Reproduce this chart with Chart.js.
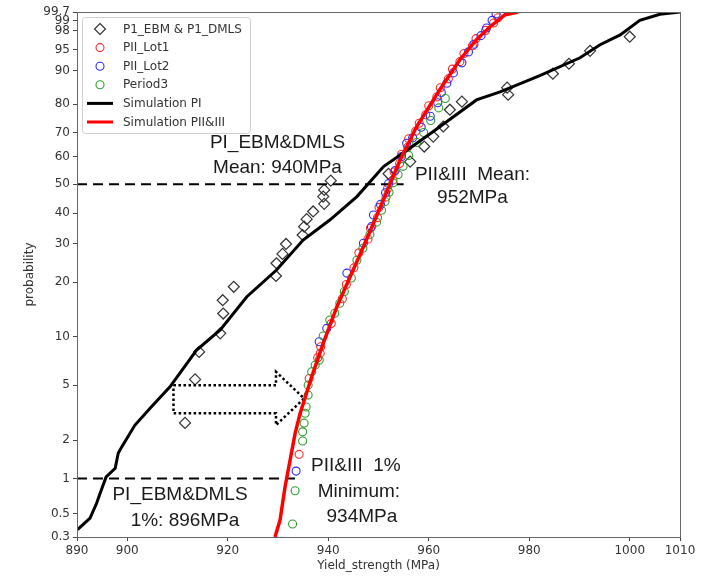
<!DOCTYPE html>
<html>
<head>
<meta charset="utf-8">
<script src="https://cdn.jsdelivr.net/npm/chart.js@4.4.0/dist/chart.umd.min.js"></script>
<style>
  body { margin: 0; background: #fff; }
</style>
</head>
<body>
<canvas id="myChart" width="705" height="576"></canvas>
<script>
/* Data: strength in MPa, probability in % */
const xTicks = [890, 900, 920, 940, 960, 980, 1000, 1010];
const yTickProbs = [0.3, 0.5, 1, 2, 5, 10, 20, 30, 40, 50, 60, 70, 80, 90, 95, 98, 99, 99.7];
const yTickLabels = ['0.3', '0.5', '1', '2', '5', '10', '20', '30', '40', '50', '60', '70', '80', '90', '95', '98', '99', '99.7'];

const p1Strength = [911.5, 913.5, 914.3, 918.5, 919.1, 919.0, 921.2, 929.6, 929.7, 930.9, 931.6, 934.9, 935.2, 935.7, 937.0, 939.2,
  939.0, 939.2, 940.5, 952.0, 956.3, 959.1, 960.9, 962.9, 964.2, 966.6, 975.8, 975.6, 984.7, 987.9, 992.1, 1000.0];
const p1Prob = [2.71, 5.46, 8.15, 10.5, 13.7, 16.2, 19.0, 21.5, 24.7, 27.2, 30.0, 32.8, 35.5, 38.0, 40.6, 43.2,
  45.7, 48.0, 51.3, 53.8, 58.2, 64.3, 68.4, 72.3, 78.2, 80.9, 83.3, 85.5, 89.3, 91.96, 94.8, 97.26];

const lot1Strength = [934.2, 936.2, 937.9, 938.4, 938.5, 940.6, 942.8, 943.6, 945.1, 946.1, 947.9, 948.4, 949.8, 950.1, 951.5, 951.8,
  952.9, 953.1, 954.2, 954.6, 955.8, 956.0, 957.4, 958.1, 959.4, 960.0, 961.6, 962.3, 963.9, 964.7, 966.2, 967.0,
  968.7, 969.4, 971.3, 972.9, 973.8];
const lot1Prob = [1.56, 5.54, 7.5, 7.98, 8.74, 12.0, 16.5, 19.5, 23.5, 27.5, 31.5, 35.0, 38.5, 42.0, 45.5, 48.5,
  51.5, 54.5, 57.5, 61.0, 64.0, 67.5, 70.5, 73.5, 76.5, 79.5, 82.5, 85.5, 88.0, 90.5, 92.5, 94.3,
  95.8, 97.0, 98.0, 98.8, 99.3];

const lot2Strength = [933.6, 938.2, 939.7, 943.7, 947.0, 948.6, 949.0, 950.4, 951.4, 952.0, 953.3, 954.6, 955.6, 956.8, 958.5, 960.3,
  961.8, 962.5, 963.6, 964.9, 966.6, 967.9, 969.0, 970.4, 971.5, 972.6, 973.4];
const lot2Prob = [1.15, 9.36, 11.24, 22.2, 30.2, 35.5, 39.4, 43.0, 47.0, 50.2, 55.0, 60.0, 65.7, 67.9, 72.0, 76.0,
  80.5, 84.0, 86.8, 89.5, 92.2, 94.6, 96.1, 97.4, 98.3, 99.0, 99.6];

const p3Strength = [932.9, 933.4, 934.9, 934.9, 935.2, 935.4, 935.6, 936.0, 936.0, 936.7, 937.4, 938.2, 939.0, 940.3, 941.3, 942.3,
  943.2, 944.6, 945.7, 946.9, 948.3, 949.6, 950.6, 951.3, 952.1, 952.9, 953.9, 954.9, 956.0, 957.6, 959.0, 960.4,
  962.0, 963.3];
const p3Prob = [0.40, 0.79, 1.97, 2.32, 2.70, 3.19, 3.54, 4.28, 5.0, 6.12, 6.75, 7.26, 10.1, 12.6, 13.75, 15.6,
  18.0, 21.0, 25.5, 28.8, 33.0, 37.0, 41.0, 44.0, 47.2, 50.5, 53.5, 56.5, 60.5, 66.0, 70.0, 74.5,
  78.8, 82.0];

const simPIStrength = [890.1, 892.6, 893.9, 894.6, 895.8, 897.6, 898.2, 898.9, 901.5, 904.5, 908.5, 913.8, 918.5, 923.8, 929.7, 935.0,
  940.3, 945.7, 951.0, 954.9, 960.9, 969.5, 974.2, 982.1, 990.1, 994.1, 998.1, 1002.0, 1006.0, 1010.0];
const simPIProb = [0.354, 0.453, 0.617, 0.753, 1.03, 1.21, 1.59, 1.78, 2.6, 3.45, 4.87, 8.35, 11.0, 16.9, 22.97, 31.2,
  37.7, 45.7, 56.4, 61.5, 70.4, 81.5, 84.2, 88.8, 93.4, 96.0, 97.5, 99.0, 99.58, 99.7];

const simPIIStrength = [929.4, 930.4, 931.4, 933.4, 934.4, 936.7, 939.0, 941.7, 947.0, 951.0, 954.3, 957.6, 962.2, 966.2, 969.5, 972.2, 975.2, 977.8];
const simPIIProb = [0.3, 0.433, 0.85, 2.25, 3.18, 5.68, 9.16, 14.9, 29.2, 44.6, 58.8, 72.3, 84.9, 92.95, 96.83, 98.44, 99.55, 99.7];

const meanLineStrength = [890, 955];
const meanLineProb = [50, 50];
const minLineStrength = [890, 934];
const minLineProb = [1, 1];

const arrowStrength = [909.2, 929.6, 929.6, 935.2, 929.6, 929.6, 909.2, 909.2];
const arrowProb = [5.0, 5.0, 6.12, 4.06, 2.61, 3.19, 3.19, 5.0];

const notes = [
  { text: 'PI_EBM&DMLS', x: 929.9, p: 65.7 },
  { text: 'Mean: 940MPa', x: 929.9, p: 55.9 },
  { text: 'PII&III  Mean:', x: 968.7, p: 53.4 },
  { text: '952MPa', x: 968.7, p: 45.2 },
  { text: 'PII&III  1%', x: 945.5, p: 1.26 },
  { text: 'Minimum:', x: 946.1, p: 0.77 },
  { text: '934MPa', x: 946.7, p: 0.472 },
  { text: 'PI_EBM&DMLS', x: 910.5, p: 0.724 },
  { text: '1%: 896MPa', x: 911.5, p: 0.425 }
];

/* probability axis: position of each tick (0 = bottom, 100 = top) as printed on the reference */
const probAxisPos = [0, 4.462, 11.137, 18.44, 28.928, 38.139, 48.513, 55.816, 61.67, 67.201, 72.464, 77.04, 82.456, 88.806, 92.811, 96.491, 98.398, 100];

function probit(p) {
  const a = [-3.969683028665376e+01, 2.209460984245205e+02, -2.759285104469687e+02, 1.383577518672690e+02, -3.066479806614716e+01, 2.506628277459239e+00];
  const b = [-5.447609879822406e+01, 1.615858368580409e+02, -1.556989798598866e+02, 6.680131188771972e+01, -1.328068155288572e+01];
  const c = [-7.784894002430293e-03, -3.223964580411365e-01, -2.400758277161838e+00, -2.549732539343734e+00, 4.374664141464968e+00, 2.938163982698783e+00];
  const d = [7.784695709041462e-03, 3.224671290700398e-01, 2.445134137142996e+00, 3.754408661907416e+00];
  const plow = 0.02425;
  let q, r;
  if (p < plow) {
    q = Math.sqrt(-2 * Math.log(p));
    return (((((c[0] * q + c[1]) * q + c[2]) * q + c[3]) * q + c[4]) * q + c[5]) / ((((d[0] * q + d[1]) * q + d[2]) * q + d[3]) * q + 1);
  }
  if (p <= 1 - plow) {
    q = p - 0.5; r = q * q;
    return (((((a[0] * r + a[1]) * r + a[2]) * r + a[3]) * r + a[4]) * r + a[5]) * q / (((((b[0] * r + b[1]) * r + b[2]) * r + b[3]) * r + b[4]) * r + 1);
  }
  q = Math.sqrt(-2 * Math.log(1 - p));
  return -(((((c[0] * q + c[1]) * q + c[2]) * q + c[3]) * q + c[4]) * q + c[5]) / ((((d[0] * q + d[1]) * q + d[2]) * q + d[3]) * q + 1);
}

const anchorZ = yTickProbs.map(p => probit(p / 100));

function probPos(pct) {
  const z = probit(pct / 100);
  let i = 0;
  while (i < anchorZ.length - 2 && z > anchorZ[i + 1]) i++;
  const f = (z - anchorZ[i]) / (anchorZ[i + 1] - anchorZ[i]);
  return probAxisPos[i] + f * (probAxisPos[i + 1] - probAxisPos[i]);
}

function pts(xs, ps) {
  return xs.map((x, i) => ({ x: x, y: probPos(ps[i]) }));
}

const tickFont = { family: 'DejaVu Sans', size: 12 };

/* legend drawn inside the plot, like the original */
const innerLegend = {
  id: 'innerLegend',
  afterDraw(chart) {
    const ctx = chart.ctx;
    const area = chart.chartArea;
    const bx = area.left + 5, by = area.top + 5, bw = 168, bh = 116;
    ctx.save();
    ctx.fillStyle = 'rgba(255,255,255,0.85)';
    ctx.strokeStyle = '#d0d0d0';
    ctx.lineWidth = 1;
    ctx.beginPath();
    ctx.roundRect(bx + 0.5, by + 0.5, bw, bh, 3);
    ctx.fill();
    ctx.stroke();
    ctx.font = '12px "DejaVu Sans"';
    ctx.textBaseline = 'middle';
    chart.data.datasets.slice(0, 6).forEach((ds, i) => {
      const cy = by + 12 + i * 18.6;
      const cx = bx + 18;
      ctx.strokeStyle = ds.borderColor;
      ctx.beginPath();
      if (ds.showLine) {
        ctx.lineWidth = 3;
        ctx.moveTo(cx - 13, cy);
        ctx.lineTo(cx + 13, cy);
      } else if (ds.pointStyle === 'rectRot') {
        const r = ds.pointRadius;
        ctx.lineWidth = ds.borderWidth;
        ctx.moveTo(cx, cy - r); ctx.lineTo(cx + r, cy); ctx.lineTo(cx, cy + r); ctx.lineTo(cx - r, cy); ctx.closePath();
      } else {
        ctx.lineWidth = ds.borderWidth;
        ctx.arc(cx, cy, ds.pointRadius, 0, Math.PI * 2);
      }
      ctx.stroke();
      ctx.fillStyle = '#333';
      ctx.fillText(ds.label, bx + 41, cy + 0.5);
    });
    ctx.restore();
  }
};

const notesAndFrame = {
  id: 'notesAndFrame',
  afterDatasetsDraw(chart) {
    const ctx = chart.ctx;
    const xs = chart.scales.x, ys = chart.scales.y;
    const area = chart.chartArea;
    ctx.save();
    ctx.strokeStyle = '#666';
    ctx.lineWidth = 1;
    ctx.strokeRect(Math.round(area.left) + 0.5, Math.round(area.top) + 0.5,
      Math.round(area.right - area.left), Math.round(area.bottom - area.top));
    ctx.fillStyle = '#1a1a1a';
    ctx.font = '19px "Liberation Sans", Arial, sans-serif';
    ctx.textAlign = 'center';
    ctx.textBaseline = 'middle';
    notes.forEach(n => {
      ctx.fillText(n.text, xs.getPixelForValue(n.x), ys.getPixelForValue(probPos(n.p)));
    });
    ctx.restore();
  }
};

new Chart('myChart', {
  type: 'scatter',
  data: {
    datasets: [
      { label: 'P1_EBM & P1_DMLS', data: pts(p1Strength, p1Prob), pointStyle: 'rectRot', pointRadius: 5.5,
        borderColor: '#333', backgroundColor: 'rgba(0,0,0,0)', borderWidth: 1.2, order: 6 },
      { label: 'PII_Lot1', data: pts(lot1Strength, lot1Prob), pointStyle: 'circle', pointRadius: 4,
        borderColor: '#ff2a2a', backgroundColor: 'rgba(0,0,0,0)', borderWidth: 1.1, order: 5 },
      { label: 'PII_Lot2', data: pts(lot2Strength, lot2Prob), pointStyle: 'circle', pointRadius: 4,
        borderColor: '#2a2aff', backgroundColor: 'rgba(0,0,0,0)', borderWidth: 1.1, order: 4 },
      { label: 'Period3', data: pts(p3Strength, p3Prob), pointStyle: 'circle', pointRadius: 4,
        borderColor: '#2e9e2e', backgroundColor: 'rgba(0,0,0,0)', borderWidth: 1.1, order: 3 },
      { label: 'Simulation PI', data: pts(simPIStrength, simPIProb), showLine: true, pointRadius: 0,
        borderColor: '#000', borderWidth: 3, order: 1 },
      { label: 'Simulation PII&III', data: pts(simPIIStrength, simPIIProb), showLine: true, pointRadius: 0,
        borderColor: '#ff0000', borderWidth: 3.5, order: 0 },
      { label: 'mean', data: pts(meanLineStrength, meanLineProb), showLine: true, pointRadius: 0,
        borderColor: '#000', borderWidth: 2, borderDash: [10, 6], order: 2 },
      { label: 'min', data: pts(minLineStrength, minLineProb), showLine: true, pointRadius: 0,
        borderColor: '#000', borderWidth: 2, borderDash: [10, 6], order: 2 },
      { label: 'arrow', data: pts(arrowStrength, arrowProb), showLine: true, pointRadius: 0,
        borderColor: '#000', borderWidth: 2.5, borderDash: [2.5, 2.5], order: 2 }
    ]
  },
  options: {
    responsive: false,
    animation: false,
    devicePixelRatio: 1,
    layout: { padding: { left: 0, top: 12, right: 25, bottom: 0 } },
    plugins: { legend: { display: false }, tooltip: { enabled: false } },
    scales: {
      x: {
        type: 'linear', min: 890, max: 1010,
        afterBuildTicks: s => { s.ticks = xTicks.map(v => ({ value: v })); },
        afterFit: s => { s.height = 39; },
        ticks: { font: tickFont, color: '#333', padding: 3, maxRotation: 0, autoSkip: false, callback: v => String(v) },
        grid: { display: true, drawOnChartArea: false, drawTicks: true, tickLength: 4, color: '#444' },
        border: { display: false },
        title: { display: true, text: 'Yield_strength (MPa)', font: tickFont, color: '#333', padding: { top: 0, bottom: 3 } }
      },
      y: {
        type: 'linear', min: 0, max: 100,
        afterBuildTicks: s => { s.ticks = yTickProbs.map(p => ({ value: probPos(p) })); },
        afterFit: s => { s.width = 77; },
        ticks: { font: tickFont, color: '#333', padding: 3, autoSkip: false, callback: (v, i) => yTickLabels[i] },
        grid: { display: true, drawOnChartArea: false, drawTicks: true, tickLength: 4, color: '#444' },
        border: { display: false },
        title: { display: true, text: 'probability', font: tickFont, color: '#333', padding: { top: 23, bottom: 0 } }
      }
    }
  },
  plugins: [notesAndFrame, innerLegend]
});
</script>
</body>
</html>
